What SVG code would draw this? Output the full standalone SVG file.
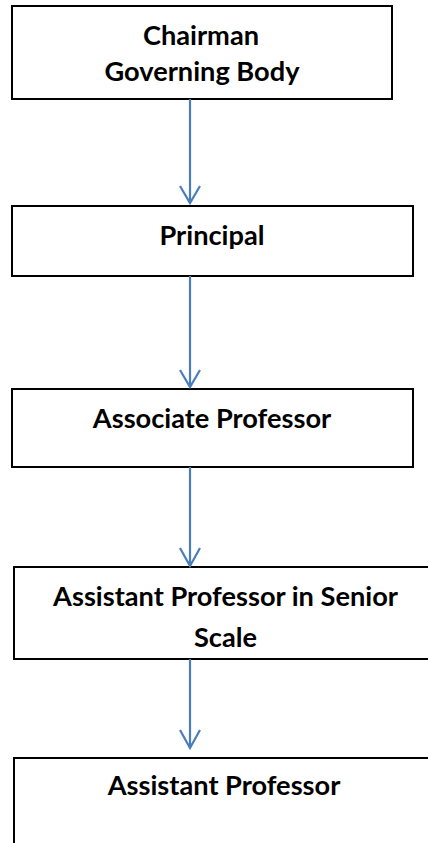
<svg xmlns="http://www.w3.org/2000/svg" width="428" height="843" viewBox="0 0 428 843">
<defs>
<style>
.box{fill:#fff;stroke:#000;stroke-width:2}
.t{font-family:Lato,"Open Sans","Liberation Sans",sans-serif;font-weight:bold;font-size:27.2px;fill:#000;text-anchor:middle}
.c{stroke:#4a7ebb;stroke-width:2.2;fill:none}
</style>
</defs>
<rect width="428" height="843" fill="#fff"/>
<g id="n1"><rect class="box" x="12" y="6" width="380" height="93"/><text class="t" x="201" y="45">Chairman</text><text class="t" x="202" y="81">Governing Body</text></g>
<g id="n2"><rect class="box" x="12" y="206" width="401" height="70"/><text class="t" x="212" y="245">Principal</text></g>
<g id="n3"><rect class="box" x="12" y="389" width="401" height="78"/><text class="t" x="212" y="428">Associate Professor</text></g>
<g id="n4"><rect class="box" x="14" y="567" width="430" height="92"/><text class="t" x="225.5" y="606">Assistant Professor in Senior</text><text class="t" x="225.5" y="647">Scale</text></g>
<g id="n5"><rect class="box" x="14" y="758" width="430" height="100"/><text class="t" x="224" y="795">Assistant Professor</text></g>
<g id="connectors">
<path class="c" d="M190 99V203M180 186L190 203L200 186"/>
<path class="c" d="M190 276V387M180 370L190 387L200 370"/>
<path class="c" d="M190 467V566M180 548L190 566L200 548"/>
<path class="c" d="M190 659V748M180 730L190 748L200 730"/>
</g>
</svg>
